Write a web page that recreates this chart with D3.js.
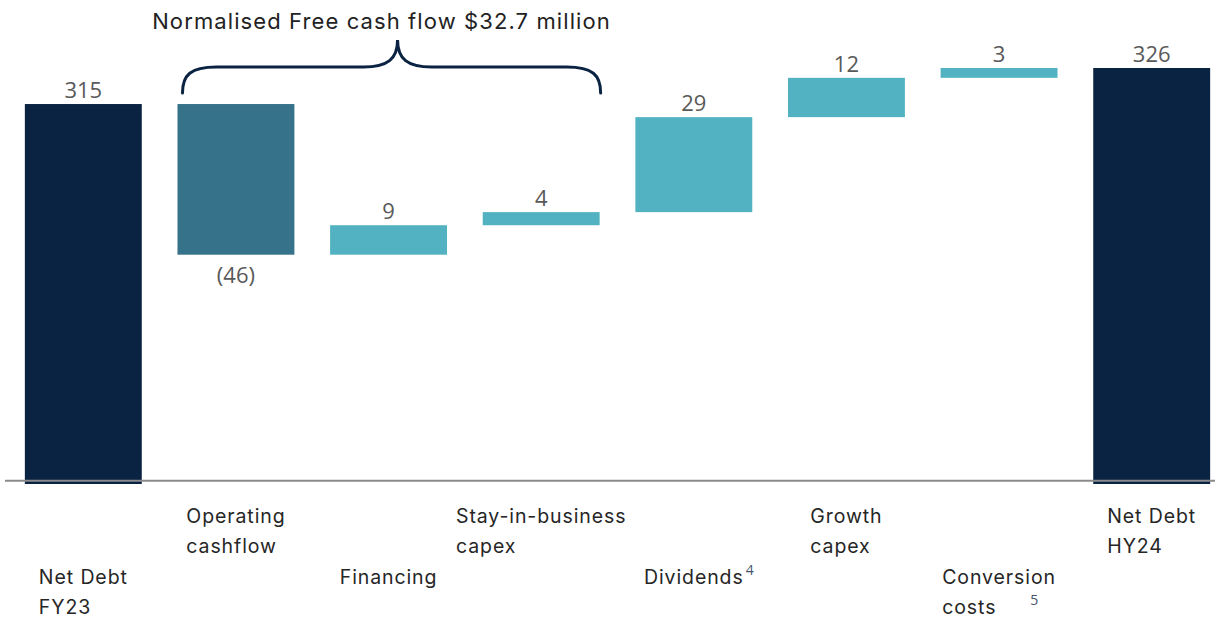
<!DOCTYPE html>
<html><head><meta charset="utf-8">
<script src="https://cdn.jsdelivr.net/npm/d3@7"></script>
<style>body{margin:0;background:#fff} svg{display:block}</style>
</head><body><svg id="chart" width="1215" height="618"></svg>
<script>
// Net debt bridge, FY23 to HY24 ($m)
const categories = ["Net Debt FY23","Operating cashflow","Financing","Stay-in-business capex","Dividends","Growth capex","Conversion costs","Net Debt HY24"];
const labelLines = [["Net Debt","FY23"],["Operating","cashflow"],["Financing"],["Stay-in-business","capex"],["Dividends"],["Growth","capex"],["Conversion","costs"],["Net Debt","HY24"]];
const labelRow = [1,0,1,0,1,0,1,0];
const values = [315,-46,9,4,29,12,3,326];
const kinds = ["total","step","step","step","step","step","step","total"];
const valueLabels = ["315","(46)","9","4","29","12","3","326"];
const footnotes = ["","","","","4","","5",""];
const bracketTitle = "Normalised Free cash flow $32.7 million";
const bracketSpan = ["Operating cashflow","Stay-in-business capex"];
const axisMin = 199, axisMax = 326, axisBase = 200;

const W = 1215, H = 618;
const svg = d3.select("#chart");

const x = d3.scaleBand().domain(categories).range([7, 1228]).paddingInner(0.234).paddingOuter(0.117);
const y = d3.scaleLinear().domain([axisMin, axisMax]).range([484, 68]);

// running totals for the waterfall
let run = 0;
const bars = categories.map((c, i) => {
  let lo, hi;
  if (kinds[i] === "total") { lo = axisMin; hi = values[i]; run = values[i]; }
  else { const s = run; run += values[i]; lo = Math.min(s, run); hi = Math.max(s, run); }
  const color = kinds[i] === "total" ? "#0b2343" : (values[i] < 0 ? "#367289" : "#53b2c1");
  return {c, i, lo, hi, v: values[i], color};
});

svg.append("g").selectAll("rect").data(bars).join("rect")
  .attr("x", d => x(d.c))
  .attr("width", x.bandwidth())
  .attr("y", d => y(d.hi))
  .attr("height", d => y(d.lo) - y(d.hi))
  .attr("fill", d => d.color);

// baseline
svg.append("line")
  .attr("x1", 5).attr("x2", W)
  .attr("y1", y(axisBase)).attr("y2", y(axisBase))
  .attr("stroke", "#8a8a8a").attr("stroke-width", 2);

// value labels
svg.append("g").selectAll("text").data(bars).join("text")
  .attr("x", d => x(d.c) + x.bandwidth() / 2)
  .attr("y", d => d.v < 0 ? y(d.lo) + 28 : y(d.hi) - 6)
  .attr("text-anchor", "middle")
  .attr("font-family", "'Open Sans', sans-serif")
  .attr("font-size", 22)
  .attr("fill", "#595959")
  .text(d => valueLabels[d.i]);

// category labels: left-aligned block centred under each bar
const rowTop = [523, 584];
const lineGap = 30;
const lab = svg.append("g")
  .attr("font-family", "Inter, 'Noto Sans', sans-serif")
  .attr("font-size", 19.5)
  .attr("letter-spacing", 0.9)
  .attr("fill", "#262626");
categories.forEach((c, i) => {
  const t = lab.append("text").attr("y", rowTop[labelRow[i]]);
  labelLines[i].forEach((ln, k) => {
    t.append("tspan").attr("x", 0).attr("y", rowTop[labelRow[i]] + k * lineGap).text(ln);
  });
  const bw = t.node().getBBox().width;
  const x0 = x(c) + x.bandwidth() / 2 - bw / 2;
  t.attr("transform", `translate(${x0},0)`);
  if (footnotes[i]) {
    const last = labelLines[i].length - 1;
    const lastW = t.selectAll("tspan").nodes()[last].getComputedTextLength();
    const gap = i === 6 ? 34 : 2;
    lab.append("text")
      .attr("x", x0 + lastW + gap)
      .attr("y", rowTop[labelRow[i]] + last * lineGap - 9)
      .attr("font-family", "'Open Sans', sans-serif")
      .attr("letter-spacing", 0)
      .attr("font-size", 14)
      .attr("fill", "#44546a")
      .text(footnotes[i]);
  }
});

// bracket over the free cash flow components
const bx0 = x(bracketSpan[0]) + 5;
const bx1 = x(bracketSpan[1]) + x.bandwidth() + 1;
const yEnd = 93, yMid = 67, yTop = 40, r = 34;
const xp = (bx0 + bx1) / 2 + 6;
const p = d3.path();
p.moveTo(bx0, yEnd);
p.bezierCurveTo(bx0, yMid + 8, bx0 + 8, yMid, bx0 + r, yMid);
p.lineTo(xp - r, yMid);
p.bezierCurveTo(xp - 10, yMid, xp, yMid - 8, xp, yTop);
p.bezierCurveTo(xp, yMid - 8, xp + 10, yMid, xp + r, yMid);
p.lineTo(bx1 - r, yMid);
p.bezierCurveTo(bx1 - 8, yMid, bx1, yMid + 8, bx1, yEnd);
svg.append("path").attr("d", p.toString())
  .attr("fill", "none").attr("stroke", "#0b2343").attr("stroke-width", 3)
  .attr("stroke-linecap", "round");

svg.append("text")
  .attr("x", (bx0 + bx1) / 2 - 10)
  .attr("y", 29)
  .attr("text-anchor", "middle")
  .attr("font-family", "Inter, 'Noto Sans', sans-serif")
  .attr("font-size", 22)
  .attr("letter-spacing", 1.1)
  .attr("fill", "#222")
  .text(bracketTitle);
</script></body></html>
